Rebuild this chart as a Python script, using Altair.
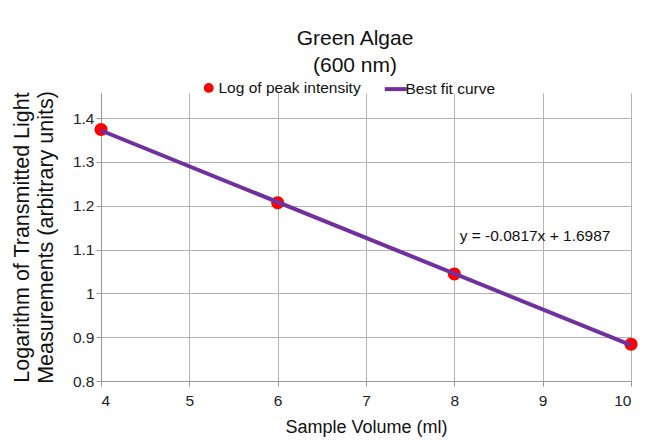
import altair as alt
import pandas as pd

volumes = [4, 6, 8, 10]
log_peak = [1.374, 1.207, 1.044, 0.884]
fit_x = [4, 10]
fit_y = [1.3719, 0.8817]
series_names = ["Log of peak intensity", "Best fit curve"]
eq_text = ["y = -0.0817x + 1.6987"]
eq_x = [8.06]
eq_y = [1.132]
y_ticks = [0.8, 0.9, 1.0, 1.1, 1.2, 1.3, 1.4]
x_ticks = [4, 5, 6, 7, 8, 9, 10]

pts = pd.DataFrame({"x": volumes, "y": log_peak, "series": series_names[0]})
fit = pd.DataFrame({"x": fit_x, "y": fit_y, "series": series_names[1]})
ann = pd.DataFrame({"x": eq_x, "y": eq_y, "t": eq_text})

FONT = "Liberation Sans"
SMALL = 15.5
# custom symbols (Vega scales them with the symbol size)
DOT = "M-0.54,0A0.54,0.54 0 1,1 0.54,0A0.54,0.54 0 1,1 -0.54,0Z"
DASH = "M-2,0L2,0"

xscale = alt.Scale(domain=[4, 10], nice=False, zero=False)
yscale = alt.Scale(domain=[0.8, 1.4575], nice=False, zero=False)

xaxis = alt.Axis(values=x_ticks, title="Sample Volume (ml)", format="d",
                 labelFontSize=SMALL, titleFontSize=18, labelColor="#222", titleColor="#111",
                 labelFont=FONT, titleFont=FONT, titleFontWeight="normal",
                 gridColor="#b3b3b3", domainColor="#999", tickColor="#999", tickSize=5,
                 labelPadding=7, titlePadding=10)
yaxis = alt.Axis(values=y_ticks, title=["Logarithm of Transmitted Light", "Measurements (arbitrary units)"],
                 labelFontSize=SMALL, titleFontSize=21.5, titleLineHeight=24, labelColor="#222", titleColor="#111",
                 labelFont=FONT, titleFont=FONT, titleFontWeight="normal",
                 gridColor="#b3b3b3", domainColor="#999", tickColor="#999", tickSize=5,
                 labelPadding=2, titlePadding=15,
                 labelExpr="datum.value == 1 ? '1' : format(datum.value, '.1f')")

color = alt.Color("series:N", scale=alt.Scale(domain=series_names, range=["#ff0000", "#7030a0"]),
                  legend=alt.Legend(title=None, orient="none", direction="horizontal",
                                    legendX=100, legendY=-13, labelFont=FONT, labelFontSize=SMALL,
                                    labelColor="#111", symbolStrokeWidth=4, symbolSize=121,
                                    columnPadding=15, labelOffset=2))
shape = alt.Shape("series:N", scale=alt.Scale(domain=series_names, range=[DOT, DASH]))

line = alt.Chart(fit).mark_line(strokeWidth=4).encode(
    x=alt.X("x:Q", scale=xscale, axis=xaxis),
    y=alt.Y("y:Q", scale=yscale, axis=yaxis),
    color=color,
)
points = alt.Chart(pts).mark_point(filled=True, size=580, opacity=1).encode(
    x=alt.X("x:Q", scale=xscale),
    y=alt.Y("y:Q", scale=yscale),
    color=color,
    shape=shape,
)
text = alt.Chart(ann).mark_text(align="left", baseline="middle", fontSize=SMALL, font=FONT, color="#111").encode(
    x=alt.X("x:Q", scale=xscale),
    y=alt.Y("y:Q", scale=yscale),
    text="t:N",
)

chart = alt.layer(points, line, text).properties(
    width=530, height=288,
    title=alt.TitleParams(["Green Algae", "(600 nm)"], font=FONT, fontSize=21, fontWeight="normal",
                          color="#111", anchor="middle", dx=-11, offset=4, lineHeight=27),
    autosize=alt.AutoSizeParams(type="none"),
    padding={"left": 93, "top": 85, "right": 9, "bottom": 56},
).configure_view(stroke=None)

chart.save("out.html", embed_options={"renderer": "svg", "actions": False})
